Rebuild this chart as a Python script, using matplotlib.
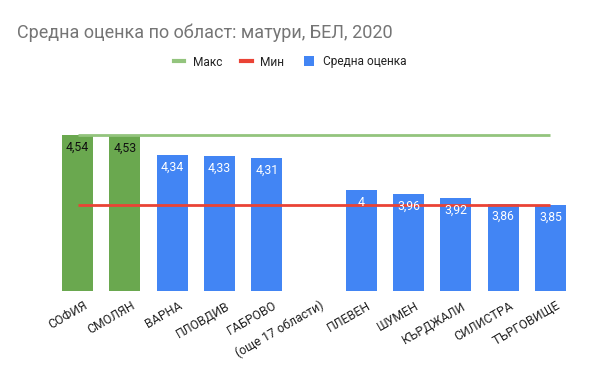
import matplotlib
matplotlib.use('Agg')
import matplotlib.pyplot as plt
from matplotlib.lines import Line2D
from matplotlib.patches import Patch
from matplotlib.transforms import ScaledTranslation
import numpy as np

plt.rcParams['font.family'] = ['Roboto', 'DejaVu Sans']

# data
categories = ['СОФИЯ', 'СМОЛЯН', 'ВАРНА', 'ПЛОВДИВ', 'ГАБРОВО', '(още 17 области)',
              'ПЛЕВЕН', 'ШУМЕН', 'КЪРДЖАЛИ', 'СИЛИСТРА', 'ТЪРГОВИЩЕ']
avg_scores = [4.54, 4.53, 4.34, 4.33, 4.31, np.nan, 4.00, 3.96, 3.92, 3.86, 3.85]
max_line = [4.54] * len(categories)
min_line = [3.85] * len(categories)
top_count = 2  # bars drawn in green

GREEN_BAR = '#6aa84f'
BLUE_BAR = '#4285f4'
GREEN_LINE = '#93c47d'
RED_LINE = '#ea4335'

fig = plt.figure(figsize=(6, 3.71), dpi=100)
# baseline at ~291px, plot top at ~100px, x from 54 to 574px
ax = fig.add_axes([54 / 600, (371 - 290.7) / 371, 520 / 600, 190.7 / 371])
y_lo = 3.012
y_hi = y_lo + 190.7 / 101.9
ax.set_ylim(y_lo, y_hi)
ax.set_xlim(-0.5, len(categories) - 0.5)

x = np.arange(len(categories))
colors = [GREEN_BAR if i < top_count else BLUE_BAR for i in range(len(categories))]
heights = [0 if np.isnan(v) else v - y_lo for v in avg_scores]
ax.bar(x, heights, bottom=y_lo, width=0.655, color=colors, zorder=2)

ax.plot(x, max_line, color=GREEN_LINE, lw=2, zorder=3, solid_capstyle='butt')
ax.plot(x, min_line, color=RED_LINE, lw=2, zorder=3, solid_capstyle='butt')

# value labels inside bar tops
for i, v in enumerate(avg_scores):
    if np.isnan(v):
        continue
    txt = f'{v:g}'.replace('.', ',')
    col = '#111111' if i < top_count else 'white'
    ax.annotate(txt, (i, v), xytext=(0, -8.8), textcoords='offset points',
                ha='center', va='center', fontsize=8.8, color=col, zorder=4)

ax.set_xticks(x)
ax.set_xticklabels(categories, rotation=30, ha='right', va='center',
                   rotation_mode='anchor', fontsize=8.9, color='#222222')
ax.tick_params(axis='x', length=0, pad=0)
shift = ScaledTranslation(0.09, -0.14, fig.dpi_scale_trans)
for lbl in ax.get_xticklabels():
    lbl.set_transform(lbl.get_transform() + shift)
ax.set_yticks([])
for s in ax.spines.values():
    s.set_visible(False)

fig.text(17 / 600, 1 - 33 / 371, 'Средна оценка по област: матури, БЕЛ, 2020',
         fontsize=13, color='#757575', ha='left', va='center')

handles = [Line2D([], [], color=GREEN_LINE, lw=3),
           Line2D([], [], color=RED_LINE, lw=3),
           Patch(facecolor=BLUE_BAR, edgecolor='none')]
fig.legend(handles, ['Макс', 'Мин', 'Средна оценка'], loc='center',
           bbox_to_anchor=(290 / 600, 1 - 62 / 371), ncol=3, frameon=False,
           fontsize=8.6, handlelength=0.9, handleheight=0.9, handletextpad=0.7,
           columnspacing=1.6, labelcolor='#222222')

fig.savefig('out.png', dpi=100)
